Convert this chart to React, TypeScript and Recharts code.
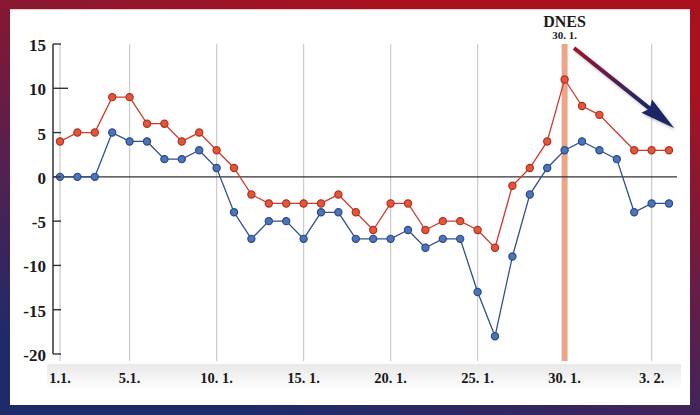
import { LineChart, Line, XAxis, YAxis, ReferenceLine } from "recharts";

// values per day, index 0 = 1.1.
const redValues = [4, 5, 5, 9, 9, 6, 6, 4, 5, 3, 1, -2, -3, -3, -3, -3, -2, -4, -6, -3, -3, -6, -5, -5, -6, -8, -1, 1, 4, 11, 8, 7, null, 3, 3, 3];
const blueValues = [0, 0, 0, 5, 4, 4, 2, 2, 3, 1, -4, -7, -5, -5, -7, -4, -4, -7, -7, -7, -6, -8, -7, -7, -13, -18, -9, -2, 1, 3, 4, 3, 2, -4, -3, -3];

const tickPositions = [0, 4, 9, 14, 19, 24, 29, 34];
const tickLabels = ["1.1.", "5.1.", "10. 1.", "15. 1.", "20. 1.", "25. 1.", "30. 1.", "3. 2."];
const yTicks = [-20, -15, -10, -5, 0, 5, 10, 15];

const todayIndex = 29;
const todayTitle = "DNES";
const todayDate = "30. 1.";

// trend arrow, in data units
const arrowFrom = { x: 29.54, y: 14.55 };
const arrowTo = { x: 35.29, y: 5.52 };

const data = blueValues.map((b, i) => ({ x: i, blue: b, red: redValues[i] }));

const FONT = "'Liberation Serif', 'Times New Roman', serif";

// eslint-disable-next-line @typescript-eslint/no-explicit-any
function YTick(props: any) {
  const { x, y, payload } = props;
  const axisX = x + 8;
  const len = payload.value === 10 ? 15 : 8;
  return (
    <g>
      <line x1={axisX} x2={axisX + len} y1={y} y2={y} stroke="#333" strokeWidth={1.4} />
      <text x={x + 1} y={y} dy={7} textAnchor="end" fontFamily={FONT} fontWeight="bold" fontSize={17} fill="#1a1a1a">
        {payload.value}
      </text>
    </g>
  );
}

// eslint-disable-next-line @typescript-eslint/no-explicit-any
function XTick(props: any) {
  const { x, y, payload } = props;
  const idx = tickPositions.indexOf(payload.value);
  return (
    <text x={x} y={y} dy={21} textAnchor="middle" fontFamily={FONT} fontWeight="bold" fontSize={14.5} fill="#1a1a1a">
      {tickLabels[idx]}
    </text>
  );
}

// eslint-disable-next-line @typescript-eslint/no-explicit-any
function TodayBand(props: any) {
  const { x1, y1, x2, y2 } = props;
  return (
    <g>
      <line x1={x1} y1={y1} x2={x2} y2={y2} stroke="#EBA68A" strokeWidth={6} />
      <text x={x1} y={y1 - 17} textAnchor="middle" fontFamily={FONT} fontWeight="bold" fontSize={16} fill="#1a1a1a">
        {todayTitle}
      </text>
      <text x={x1} y={y1 - 5} textAnchor="middle" fontFamily={FONT} fontWeight="bold" fontSize={11} fill="#1a1a1a">
        {todayDate}
      </text>
    </g>
  );
}

// eslint-disable-next-line @typescript-eslint/no-explicit-any
function TrendArrow(props: any) {
  const { x1, y1, x2, y2 } = props;
  const dx = x2 - x1;
  const dy = y2 - y1;
  const len = Math.sqrt(dx * dx + dy * dy);
  const ux = dx / len;
  const uy = dy / len;
  const nx = -uy;
  const ny = ux;
  const headLen = 35;
  const half = 8.5;
  const bx = x2 - ux * headLen;
  const by = y2 - uy * headLen;
  const head = `${x2},${y2} ${bx + nx * half},${by + ny * half} ${bx + ux * 4},${by + uy * 4} ${bx - nx * half},${by - ny * half}`;
  return (
    <g>
      <defs>
        <linearGradient id="arrowGrad" gradientUnits="userSpaceOnUse" x1={x1} y1={y1} x2={bx} y2={by}>
          <stop offset="0%" stopColor="#9E1230" />
          <stop offset="100%" stopColor="#1C2766" />
        </linearGradient>
        <filter id="arrowShadow" x="-20%" y="-20%" width="140%" height="140%">
          <feDropShadow dx="1.5" dy="2" stdDeviation="1.5" floodColor="#000" floodOpacity="0.25" />
        </filter>
      </defs>
      <g filter="url(#arrowShadow)">
        <line x1={x1} y1={y1} x2={bx + ux * 6} y2={by + uy * 6} stroke="url(#arrowGrad)" strokeWidth={4} />
        <polygon points={head} fill="#1C2766" />
      </g>
    </g>
  );
}

export default function App() {
  return (
    <div
      style={{
        position: "fixed",
        left: 0,
        top: 0,
        width: 700,
        height: 415,
        background: "linear-gradient(195deg, #a8121f 15%, #5a1f4c 55%, #1d2b6b 88%)",
      }}
    >
      <div style={{ position: "absolute", left: 10, top: 9, right: 10, bottom: 10, background: "#fff", borderTop: "1px solid #f3c8c8" }} />
      <div
        style={{
          position: "absolute",
          left: 47,
          top: 364,
          width: 634,
          height: 26,
          background: "linear-gradient(to bottom, #e9e9e9, #f4f4f4 55%, #ffffff)",
        }}
      />
      <div style={{ position: "absolute", left: 0, top: 0 }}>
        <LineChart width={700} height={415} data={data} margin={{ top: 44, right: 23, bottom: 31, left: 0 }}>
          <XAxis
            dataKey="x"
            type="number"
            domain={[0, 35]}
            ticks={tickPositions}
            interval={0}
            padding={{ left: 7, right: 8 }}
            axisLine={false}
            tickLine={false}
            tick={<XTick />}
            height={30}
          />
          <YAxis
            domain={[-20, 15]}
            ticks={yTicks}
            interval={0}
            width={53}
            axisLine={{ stroke: "#333", strokeWidth: 1.5 }}
            tickLine={false}
            tick={<YTick />}
          />
          {tickPositions
            .filter((p) => p !== todayIndex)
            .map((p) => (
              <ReferenceLine
                key={p}
                segment={[{ x: p, y: 15 }, { x: p, y: -20.8 }]}
                ifOverflow="visible"
                stroke="#cdcdcd"
                strokeWidth={1.3}
              />
            ))}
          <ReferenceLine
            segment={[{ x: todayIndex, y: 15 }, { x: todayIndex, y: -20.8 }]}
            ifOverflow="visible"
            shape={TodayBand}
          />
          <ReferenceLine y={0} stroke="#333" strokeWidth={1.3} />
          <ReferenceLine segment={[arrowFrom, arrowTo]} ifOverflow="visible" shape={TrendArrow} />
          <Line
            dataKey="blue"
            stroke="#2F4F93"
            strokeWidth={1.3}
            dot={{ r: 3.6, fill: "#4D74B5", stroke: "#2B4A8C", strokeWidth: 1.2 }}
            isAnimationActive={false}
          />
          <Line
            dataKey="red"
            stroke="#D03A2E"
            strokeWidth={1.3}
            connectNulls
            dot={{ r: 3.6, fill: "#E0583A", stroke: "#B5301F", strokeWidth: 1.2 }}
            isAnimationActive={false}
          />
        </LineChart>
      </div>
    </div>
  );
}
